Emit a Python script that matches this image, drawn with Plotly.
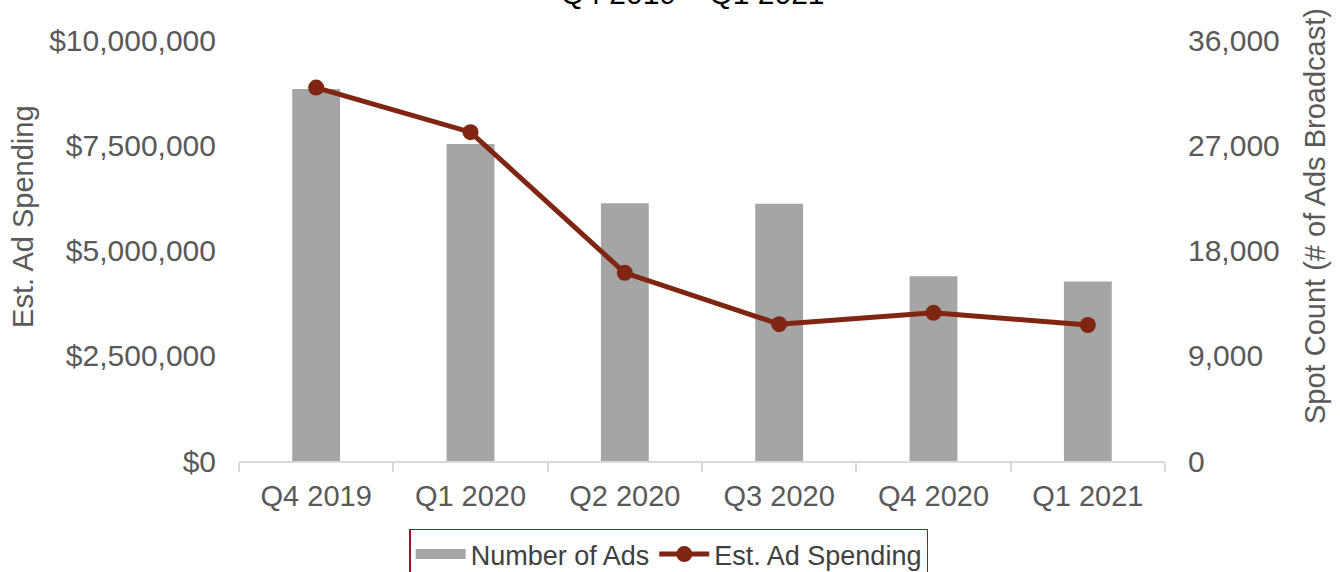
import plotly.graph_objects as go

quarters = ["Q4 2019", "Q1 2020", "Q2 2020", "Q3 2020", "Q4 2020", "Q1 2021"]
num_ads = [31800, 27100, 22050, 22000, 15800, 15350]
ad_spending = [8870000, 7810000, 4470000, 3250000, 3520000, 3230000]
left_ticks = [0, 2500000, 5000000, 7500000, 10000000]
left_tick_text = ["$0", "$2,500,000", "$5,000,000", "$7,500,000", "$10,000,000"]
right_ticks = [0, 9000, 18000, 27000, 36000]
right_tick_text = ["0", "9,000", "18,000", "27,000", "36,000"]

FONT = "Liberation Sans, Arial, sans-serif"
GREY_TXT = "#595959"
BAR_COLOR = "#a5a5a5"
LINE_COLOR = "#7f2511"
FS = 30

fig = go.Figure()
# bars on the primary axis (drawn on the right), line on the overlaying axis (drawn on top)
fig.add_trace(go.Bar(
    x=quarters, y=num_ads, name="Number of Ads", yaxis="y",
    marker=dict(color=BAR_COLOR, line=dict(width=0)), width=0.31,
    showlegend=False, legendgroup="ads",
))
# legend-only entry so the bar key is drawn as a wide grey block
fig.add_trace(go.Scatter(
    x=[None], y=[None], name="Number of Ads", yaxis="y", mode="lines",
    line=dict(color=BAR_COLOR, width=11), legendgroup="ads", hoverinfo="skip",
))
fig.add_trace(go.Scatter(
    x=quarters, y=ad_spending, name="Est. Ad Spending", yaxis="y2",
    mode="lines+markers",
    line=dict(color=LINE_COLOR, width=5),
    marker=dict(color=LINE_COLOR, size=16),
))

fig.update_layout(
    width=1340, height=572,
    margin=dict(l=239, r=175, t=40, b=111, autoexpand=False),
    paper_bgcolor="white", plot_bgcolor="white",
    font=dict(family=FONT, color=GREY_TXT, size=FS),
    showlegend=True,
    legend=dict(
        orientation="h", x=0.464, xanchor="center",
        yref="container", y=0.076, yanchor="top",
        bordercolor="#a50e2d", borderwidth=1.5,
        font=dict(size=27, color="#404040"),
        traceorder="normal", itemwidth=50,
    ),
    xaxis=dict(
        type="category", showline=True, linecolor="#d9d9d9", linewidth=2,
        ticks="outside", tickson="boundaries", ticklen=9, tickcolor="#d9d9d9",
        tickwidth=2, showgrid=False, tickfont=dict(size=29, color=GREY_TXT),
        zeroline=False, automargin=False, ticklabelstandoff=8,
    ),
    yaxis=dict(
        range=[0, 36000], tickvals=right_ticks, ticktext=right_tick_text,
        side="right", showgrid=False, zeroline=False, showline=False,
        automargin=False,
        tickfont=dict(size=FS, color=GREY_TXT), ticklabelstandoff=22,
    ),
    yaxis2=dict(
        range=[0, 10000000], tickvals=left_ticks, ticktext=left_tick_text,
        overlaying="y", side="left",
        showgrid=False, zeroline=False, showline=False, automargin=False,
        tickfont=dict(size=FS, color=GREY_TXT), ticks="", ticklabelstandoff=22,
    ),
)

fig.add_annotation(
    text="Est. Ad Spending", xref="paper", yref="paper",
    x=-0.2333, y=0.582, xanchor="center", yanchor="middle", textangle=-90,
    showarrow=False, font=dict(size=29, color=GREY_TXT, family=FONT),
)
fig.add_annotation(
    text="Spot Count (# of Ads Broadcast)", xref="paper", yref="paper",
    x=1.162, y=0.582, xanchor="center", yanchor="middle", textangle=-90,
    showarrow=False, font=dict(size=29, color=GREY_TXT, family=FONT),
)
fig.add_annotation(
    text="Q4 2019 – Q1 2021", xref="paper", yref="paper",
    x=0.49, y=1.066, yanchor="bottom", showarrow=False,
    font=dict(size=30, color="#000000", family=FONT),
)

fig.write_html("out.html")
